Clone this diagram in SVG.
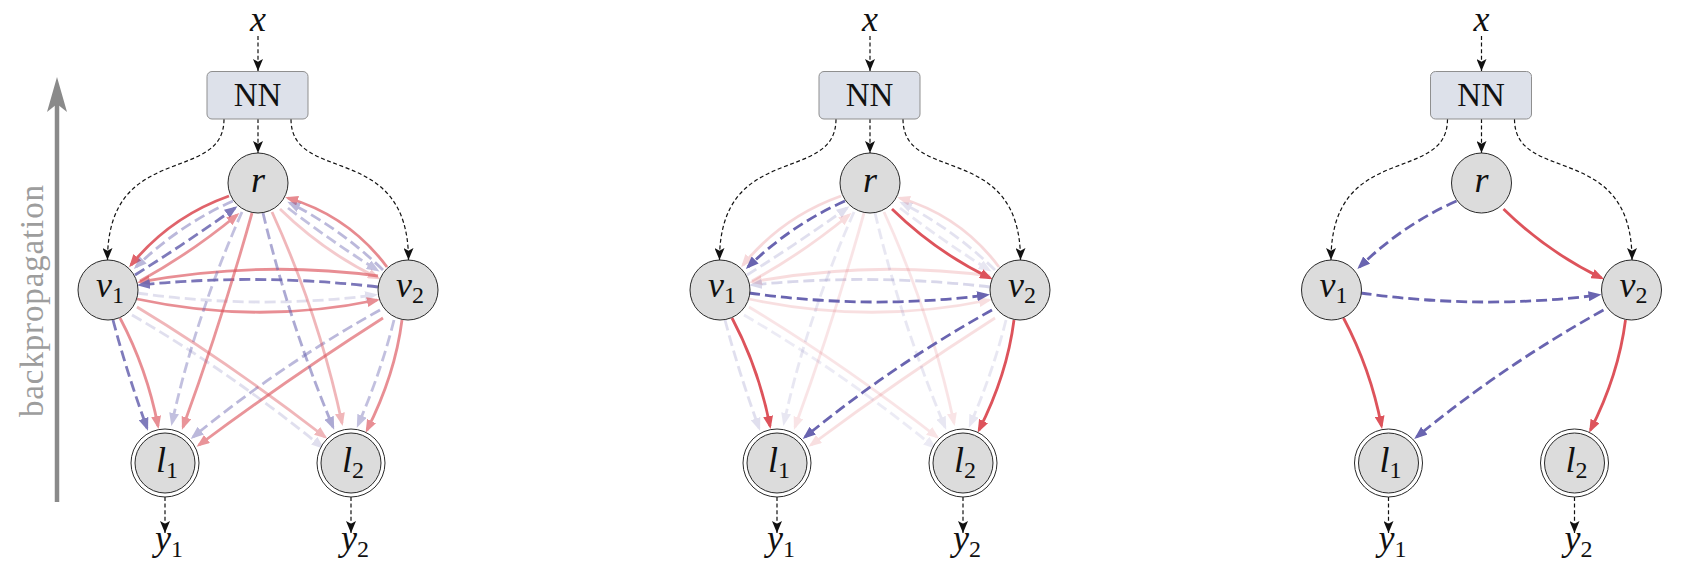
<svg xmlns="http://www.w3.org/2000/svg" width="1702" height="565" viewBox="0 0 1702 565">
<style>
.nd{fill:#dcdcdc;stroke:#2a2a2a;stroke-width:1}
.ring{fill:#ffffff;stroke:#2a2a2a;stroke-width:1}
.nn{fill:#dde1ea;stroke:#8f8f8f;stroke-width:1}
.m{font-family:'Liberation Serif','Times New Roman',serif;font-style:italic;font-size:36px;fill:#111;text-anchor:middle}
.sub{font-style:normal;font-size:24px}
.t{font-family:'Liberation Serif','Times New Roman',serif;font-size:33px;fill:#111;text-anchor:middle}
.io{fill:none;stroke:#111;stroke-width:1.2;stroke-dasharray:4 2.6;marker-end:url(#ak)}
.rd{fill:none;stroke:#dd535b;stroke-width:2.8;marker-end:url(#ar)}
.bl{fill:none;stroke:#6964b0;stroke-width:2.8;stroke-dasharray:11 5;marker-end:url(#ab)}
.bp{font-family:'Liberation Serif','Times New Roman',serif;font-size:33px;fill:#9d9d9d;text-anchor:middle}
</style>
<defs>
<marker id="ar" viewBox="0 0 13 10" markerUnits="userSpaceOnUse" markerWidth="13" markerHeight="10" refX="10" refY="5" orient="auto"><path d="M0,0 L13,5 L0,10 z" fill="#dd535b"/></marker>
<marker id="ab" viewBox="0 0 13 10" markerUnits="userSpaceOnUse" markerWidth="13" markerHeight="10" refX="10" refY="5" orient="auto"><path d="M0,0 L13,5 L0,10 z" fill="#6964b0"/></marker>
<marker id="ak" viewBox="0 0 12 10" markerUnits="userSpaceOnUse" markerWidth="12" markerHeight="10" refX="12" refY="5" orient="auto"><path d="M0,0 L12,5 L0,10 L2.8,5 z" fill="#111"/></marker>
</defs>
<rect width="1702" height="565" fill="#ffffff"/>

<g id="backprop">
<line x1="57" y1="502" x2="57" y2="104" stroke="#8a8a8a" stroke-width="4.5"/>
<path d="M57,77 L67,112 L57,104 L47,112 z" fill="#8a8a8a"/>
<text class="bp" transform="translate(43,301) rotate(-90)" textLength="232" lengthAdjust="spacing">backpropagation</text>
</g>

<!-- Panel 1 -->
<g id="panel1">
<g id="p1-connectors">
<path class="io" d="M258,36 L258,71"/>
<path class="io" d="M258,119 L258,153"/>
<path class="io" d="M224,119 C224,185 107.5,140 107.5,260"/>
<path class="io" d="M291,119 C291,185 408.5,140 408.5,260"/>
<path class="io" d="M165,497 L165,533"/>
<path class="io" d="M351,497 L351,533"/>
<path class="rd" d="M229,196 Q170,217 131,265" opacity="0.9"/>
<path class="bl" d="M233,201 Q179,225 136,267" opacity="0.45"/>
<path class="bl" d="M135,275 Q186,243 235,208" opacity="0.85"/>
<path class="rd" d="M140,281 Q191,253 237,215" opacity="0.62"/>
<path class="rd" d="M387,267 Q349,216 288,198" opacity="0.68"/>
<path class="bl" d="M383,270 Q341,229 290,203" opacity="0.45"/>
<path class="bl" d="M288,208 Q331,241 377,270" opacity="0.4"/>
<path class="rd" d="M280,209 Q324,252 378,278" opacity="0.3"/>
<path class="rd" d="M378,276 Q260,260 140,282" opacity="0.65"/>
<path class="bl" d="M378,287 Q259,273 140,285" opacity="0.88"/>
<path class="bl" d="M137,293 Q258,310 375,295" opacity="0.2"/>
<path class="rd" d="M137,299 Q258,325 377,300" opacity="0.65"/>
<path class="bl" d="M113,320 Q127,373 147,428" opacity="0.85"/>
<path class="rd" d="M120,318 Q147,369 158,426" opacity="0.65"/>
<path class="bl" d="M242,212 Q195,318 172,423" opacity="0.4"/>
<path class="rd" d="M252,213 Q222,320 183,427" opacity="0.62"/>
<path class="bl" d="M380,310 Q281,365 193,437" opacity="0.45"/>
<path class="rd" d="M383,318 Q289,378 199,445" opacity="0.62"/>
<path class="bl" d="M132,315 Q230,372 322,447" opacity="0.2"/>
<path class="rd" d="M137,307 Q228,362 325,437" opacity="0.42"/>
<path class="bl" d="M263,213 Q289,322 333,427" opacity="0.55"/>
<path class="rd" d="M272,212 Q319,315 342,423" opacity="0.42"/>
<path class="bl" d="M394,320 Q381,372 358,425" opacity="0.4"/>
<path class="rd" d="M402,320 Q395,375 367,430" opacity="0.65"/>
</g>
<g id="p1-x"><text class="m" x="258" y="31">x</text></g>
<g id="p1-NN"><rect class="nn" x="207" y="71.5" width="101" height="47.5" rx="5"/><text class="t" x="257.5" y="106">NN</text></g>
<g id="p1-r"><circle class="nd" cx="258" cy="183" r="30"/><text class="m" x="258" y="192">r</text></g>
<g id="p1-v1"><circle class="nd" cx="108" cy="290" r="30"/><text class="m" x="110" y="297">v<tspan class="sub" dy="6">1</tspan></text></g>
<g id="p1-v2"><circle class="nd" cx="408" cy="290" r="30"/><text class="m" x="410" y="297">v<tspan class="sub" dy="6">2</tspan></text></g>
<g id="p1-l1"><circle class="ring" cx="165" cy="463" r="34"/><circle class="nd" cx="165" cy="463" r="30"/><text class="m" x="167" y="472">l<tspan class="sub" dy="6">1</tspan></text></g>
<g id="p1-l2"><circle class="ring" cx="351" cy="463" r="34"/><circle class="nd" cx="351" cy="463" r="30"/><text class="m" x="353" y="472">l<tspan class="sub" dy="6">2</tspan></text></g>
<g id="p1-y1"><text class="m" x="169" y="550">y<tspan class="sub" dy="7">1</tspan></text></g>
<g id="p1-y2"><text class="m" x="355" y="550">y<tspan class="sub" dy="7">2</tspan></text></g>
</g>

<!-- Panel 2 -->
<g id="panel2" transform="translate(612,0)">
<g id="p2-connectors">
<path class="io" d="M258,36 L258,71"/>
<path class="io" d="M258,119 L258,153"/>
<path class="io" d="M224,119 C224,185 107.5,140 107.5,260"/>
<path class="io" d="M291,119 C291,185 408.5,140 408.5,260"/>
<path class="io" d="M165,497 L165,533"/>
<path class="io" d="M351,497 L351,533"/>
<path class="rd" d="M229,196 Q170,217 131,265" opacity="0.22"/>
<path class="bl" d="M135,275 Q186,243 235,208" opacity="0.2"/>
<path class="rd" d="M140,281 Q191,253 237,215" opacity="0.2"/>
<path class="rd" d="M387,267 Q349,216 288,198" opacity="0.22"/>
<path class="bl" d="M383,270 Q341,229 290,203" opacity="0.18"/>
<path class="bl" d="M288,208 Q331,241 377,270" opacity="0.15"/>
<path class="rd" d="M378,276 Q260,260 140,282" opacity="0.2"/>
<path class="bl" d="M378,287 Q259,273 140,285" opacity="0.25"/>
<path class="rd" d="M137,299 Q258,325 377,300" opacity="0.18"/>
<path class="bl" d="M113,320 Q127,373 147,428" opacity="0.2"/>
<path class="bl" d="M242,212 Q195,318 172,423" opacity="0.15"/>
<path class="rd" d="M252,213 Q222,320 183,427" opacity="0.15"/>
<path class="rd" d="M383,318 Q289,378 199,445" opacity="0.18"/>
<path class="bl" d="M132,315 Q230,372 322,447" opacity="0.12"/>
<path class="rd" d="M137,307 Q228,362 325,437" opacity="0.15"/>
<path class="bl" d="M263,213 Q289,322 333,427" opacity="0.15"/>
<path class="rd" d="M272,212 Q319,315 342,423" opacity="0.15"/>
<path class="bl" d="M394,320 Q381,372 358,425" opacity="0.15"/>
<path class="bl" d="M233,201 Q179,225 136,267"/>
<path class="rd" d="M280,209 Q324,252 378,278"/>
<path class="bl" d="M137,293 Q258,310 375,295"/>
<path class="rd" d="M120,318 Q147,369 158,426"/>
<path class="bl" d="M380,310 Q281,365 193,437"/>
<path class="rd" d="M402,320 Q395,375 367,430"/>
</g>
<g id="p2-x"><text class="m" x="258" y="31">x</text></g>
<g id="p2-NN"><rect class="nn" x="207" y="71.5" width="101" height="47.5" rx="5"/><text class="t" x="257.5" y="106">NN</text></g>
<g id="p2-r"><circle class="nd" cx="258" cy="183" r="30"/><text class="m" x="258" y="192">r</text></g>
<g id="p2-v1"><circle class="nd" cx="108" cy="290" r="30"/><text class="m" x="110" y="297">v<tspan class="sub" dy="6">1</tspan></text></g>
<g id="p2-v2"><circle class="nd" cx="408" cy="290" r="30"/><text class="m" x="410" y="297">v<tspan class="sub" dy="6">2</tspan></text></g>
<g id="p2-l1"><circle class="ring" cx="165" cy="463" r="34"/><circle class="nd" cx="165" cy="463" r="30"/><text class="m" x="167" y="472">l<tspan class="sub" dy="6">1</tspan></text></g>
<g id="p2-l2"><circle class="ring" cx="351" cy="463" r="34"/><circle class="nd" cx="351" cy="463" r="30"/><text class="m" x="353" y="472">l<tspan class="sub" dy="6">2</tspan></text></g>
<g id="p2-y1"><text class="m" x="169" y="550">y<tspan class="sub" dy="7">1</tspan></text></g>
<g id="p2-y2"><text class="m" x="355" y="550">y<tspan class="sub" dy="7">2</tspan></text></g>
</g>

<!-- Panel 3 -->
<g id="panel3" transform="translate(1223.5,0)">
<g id="p3-connectors">
<path class="io" d="M258,36 L258,71"/>
<path class="io" d="M258,119 L258,153"/>
<path class="io" d="M224,119 C224,185 107.5,140 107.5,260"/>
<path class="io" d="M291,119 C291,185 408.5,140 408.5,260"/>
<path class="io" d="M165,497 L165,533"/>
<path class="io" d="M351,497 L351,533"/>
<path class="bl" d="M233,201 Q179,225 136,267"/>
<path class="rd" d="M280,209 Q324,252 378,278"/>
<path class="bl" d="M137,293 Q258,310 375,295"/>
<path class="rd" d="M120,318 Q147,369 158,426"/>
<path class="bl" d="M380,310 Q281,365 193,437"/>
<path class="rd" d="M402,320 Q395,375 367,430"/>
</g>
<g id="p3-x"><text class="m" x="258" y="31">x</text></g>
<g id="p3-NN"><rect class="nn" x="207" y="71.5" width="101" height="47.5" rx="5"/><text class="t" x="257.5" y="106">NN</text></g>
<g id="p3-r"><circle class="nd" cx="258" cy="183" r="30"/><text class="m" x="258" y="192">r</text></g>
<g id="p3-v1"><circle class="nd" cx="108" cy="290" r="30"/><text class="m" x="110" y="297">v<tspan class="sub" dy="6">1</tspan></text></g>
<g id="p3-v2"><circle class="nd" cx="408" cy="290" r="30"/><text class="m" x="410" y="297">v<tspan class="sub" dy="6">2</tspan></text></g>
<g id="p3-l1"><circle class="ring" cx="165" cy="463" r="34"/><circle class="nd" cx="165" cy="463" r="30"/><text class="m" x="167" y="472">l<tspan class="sub" dy="6">1</tspan></text></g>
<g id="p3-l2"><circle class="ring" cx="351" cy="463" r="34"/><circle class="nd" cx="351" cy="463" r="30"/><text class="m" x="353" y="472">l<tspan class="sub" dy="6">2</tspan></text></g>
<g id="p3-y1"><text class="m" x="169" y="550">y<tspan class="sub" dy="7">1</tspan></text></g>
<g id="p3-y2"><text class="m" x="355" y="550">y<tspan class="sub" dy="7">2</tspan></text></g>
</g>
</svg>
